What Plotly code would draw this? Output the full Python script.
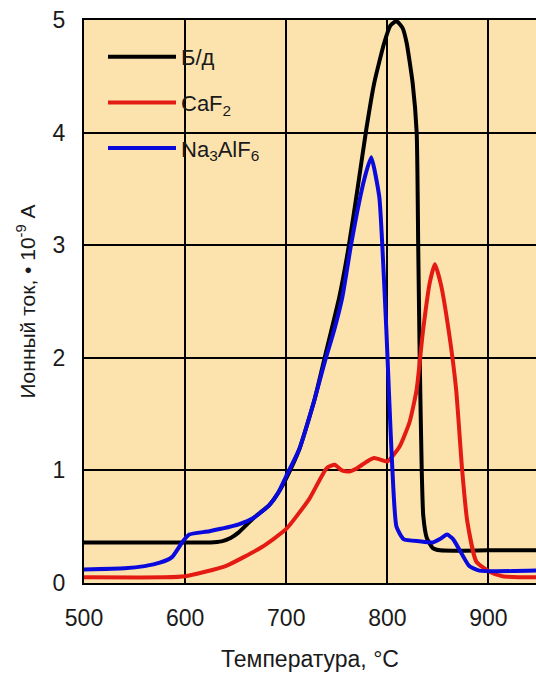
import plotly.graph_objects as go

# ---------------- data ----------------
x_bd = [500, 560, 625, 636, 645, 653, 668, 683, 692, 700, 713, 728, 738, 752.5, 762, 770.5, 779, 787, 797, 803, 809, 815, 819, 825, 829, 830.5, 832, 834, 835.5, 839, 845, 852, 900, 947]
y_bd = [0.36, 0.36, 0.36, 0.37, 0.40, 0.45, 0.58, 0.69, 0.80, 0.93, 1.19, 1.63, 2.0, 2.54, 3.0, 3.5, 4.02, 4.44, 4.8, 4.95, 4.99, 4.93, 4.8, 4.44, 4.0, 3.0, 2.0, 1.0, 0.6, 0.4, 0.31, 0.29, 0.29, 0.29]

x_caf2 = [500, 580, 600, 640, 676, 700, 723, 740, 748, 755, 762, 770, 780, 787, 795, 800, 812, 822, 829, 835, 842, 847, 853, 861, 868, 874, 879, 888, 901, 914, 947]
y_caf2 = [0.05, 0.05, 0.06, 0.15, 0.32, 0.48, 0.75, 1.02, 1.05, 1.0, 0.99, 1.02, 1.08, 1.11, 1.09, 1.08, 1.21, 1.43, 1.72, 2.22, 2.67, 2.83, 2.65, 2.22, 1.72, 1.0, 0.55, 0.19, 0.1, 0.06, 0.05]

x_na = [500, 540, 560, 575, 587, 597, 604, 624, 653, 668, 683, 692, 700, 713, 728, 738, 747.5, 755.5, 764, 770, 777, 784, 792, 795, 799, 802, 805, 809, 816, 832, 845, 852, 859, 865, 871, 881, 891, 947]
y_na = [0.12, 0.13, 0.15, 0.18, 0.23, 0.36, 0.43, 0.46, 0.52, 0.58, 0.69, 0.80, 0.95, 1.19, 1.63, 1.96, 2.25, 2.54, 3.0, 3.29, 3.58, 3.78, 3.43, 3.0, 2.25, 1.6, 1.0, 0.5, 0.39, 0.37, 0.36, 0.39, 0.43, 0.39, 0.30, 0.15, 0.11, 0.11]

x_ticks = [500, 600, 700, 800, 900]
y_ticks = [0, 1, 2, 3, 4, 5]

names = ["Б/д", "CaF<sub>2</sub>", "Na<sub>3</sub>AlF<sub>6</sub>"]
colors = ["#000000", "#E41B13", "#0A0ADC"]

FONT = "Liberation Sans Narrow, Arial Narrow, Liberation Sans, Arial, sans-serif"
BG = "#FCE3AE"
TXT = "#1a1a1a"

fig = go.Figure()
for i, (xs, ys) in enumerate([(x_bd, y_bd), (x_caf2, y_caf2), (x_na, y_na)]):
    fig.add_trace(go.Scatter(
        x=xs, y=ys, mode="lines", name=names[i],
        line=dict(color=colors[i], width=4, shape="spline", smoothing=0.5),
        legendgroup=f"g{i}",
    ))

# gap in the grid behind the legend
fig.add_shape(type="rect", xref="paper", yref="paper",
              x0=(100 - 84) / 452, x1=(273 - 84) / 452,
              y0=(583 - 170) / 563, y1=(583 - 36) / 563,
              fillcolor=BG, line=dict(width=0), layer="between")

fig.update_layout(
    width=536, height=673,
    margin=dict(l=84, r=0, t=20, b=90),
    paper_bgcolor="white", plot_bgcolor=BG,
    font=dict(family=FONT, color=TXT, size=23),
    showlegend=True,
    legend=dict(x=(103 - 84) / 452, y=(583 - 36) / 563, xanchor="left", yanchor="top",
                bgcolor="rgba(0,0,0,0)", borderwidth=0,
                font=dict(family=FONT, size=22, color=TXT),
                itemwidth=68, tracegroupgap=14),
    xaxis=dict(range=[500, 947], tickvals=x_ticks, showgrid=True, gridcolor="black", gridwidth=2,
               showline=True, linecolor="black", linewidth=2, mirror=True, zeroline=False,
               ticks="", ticklabelstandoff=13,
               title=dict(text="Температура, °C", standoff=21, font=dict(size=23))),
    yaxis=dict(range=[0, 5], tickvals=y_ticks, showgrid=True, gridcolor="black", gridwidth=2,
               showline=True, linecolor="black", linewidth=2, mirror=False, zeroline=False,
               ticks="", ticklabelstandoff=12,
               title=dict(text="Ионный ток, • 10<sup>-9</sup> A", standoff=11, font=dict(size=21))),
)

fig.write_html("out.html", config={"displayModeBar": False},
               post_script="document.body.style.margin='0';document.body.style.overflow='hidden';")
